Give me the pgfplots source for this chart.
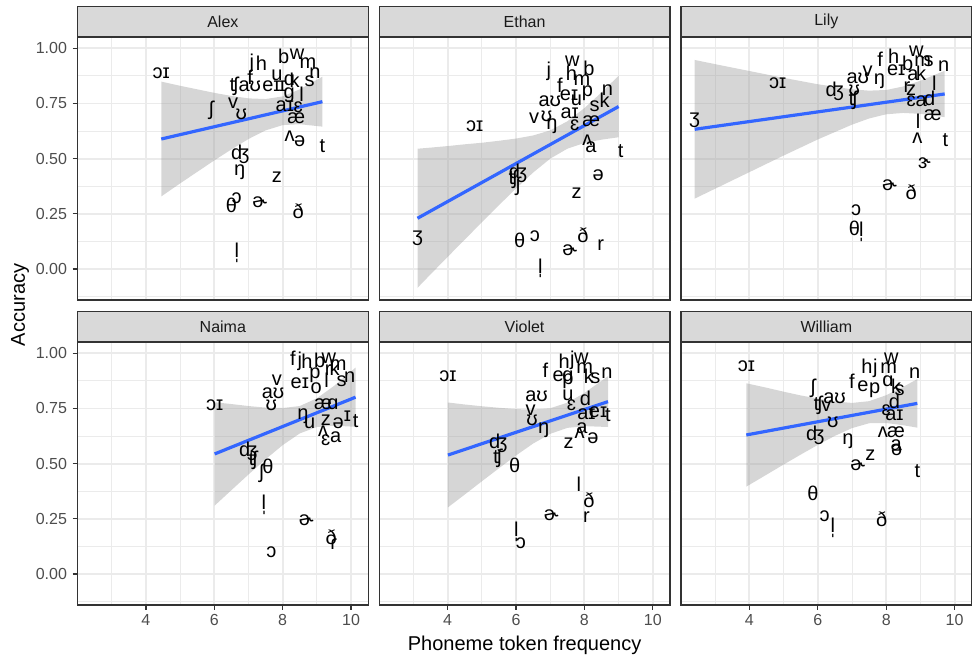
\documentclass[border=0pt]{standalone}
\usepackage{fontspec}
\setmainfont{Liberation Sans}
\usepackage{pgfplots}
\pgfplotsset{compat=1.18}
\definecolor{grid92}{HTML}{EBEBEB}
\definecolor{border}{HTML}{333333}
\definecolor{stripbg}{HTML}{D9D9D9}
\definecolor{gray30}{HTML}{4D4D4D}
\definecolor{gray10}{HTML}{1A1A1A}
\definecolor{smoothc}{HTML}{3366FF}
\definecolor{ribbonc}{HTML}{999999}
\newcommand\labfont{\fontsize{20}{20}\selectfont}
\newcommand\tickfont{\fontsize{16}{16}\selectfont}
\newcommand\titlefont{\fontsize{20}{20}\selectfont}
\pgfplotsset{
  panel/.style={
    scale only axis, width=290.7pt, height=263pt, anchor=north west,
    xmin=2.0, xmax=10.5, ymin=-0.140, ymax=1.051,
    xtick={4,6,8,10}, minor xtick={3,5,7,9},
    ytick={0,0.25,0.5,0.75,1}, minor ytick={-0.125,0.125,0.375,0.625,0.875},
    grid=both,
    major grid style={draw=grid92, line width=1.9pt},
    minor grid style={draw=grid92, line width=1pt},
    axis line style={draw=border, line width=1.2pt},
    tick align=outside, major tick length=5pt, minor tick length=0pt,
    xtick pos=bottom, ytick pos=left,
    tick style={draw=border, line width=1.2pt},
    tick label style={font=\tickfont, text=gray30},
    xticklabel style={yshift=-1pt},
    yticklabel style={xshift=-2pt},
    clip=false,
  },
  xlab/.style={xticklabels={4,6,8,10}},
  ylab/.style={yticklabels={0.00,0.25,0.50,0.75,1.00}},
  noxlab/.style={xmajorticks=false},
  noylab/.style={ymajorticks=false},
  labs/.style={draw=none, mark=none, nodes near coords, point meta=explicit symbolic,
    every node near coord/.append style={anchor=center, font=\labfont, text=black, inner sep=0pt}},
  rib/.style={fill=ribbonc, fill opacity=0.4, draw=none},
  fit/.style={draw=smoothc, line width=3.2pt},
}
\newcommand\strip[1]{%
  \draw[fill=stripbg, draw=border, line width=1.2pt] (rel axis cs:0,1) rectangle ([yshift=30.5pt]rel axis cs:1,1);
  \node[font=\tickfont, text=gray10] at ([yshift=15.25pt]rel axis cs:0.5,1) {#1};}
\begin{document}
\begin{tikzpicture}
\path[use as bounding box] (0pt,0pt) rectangle (975pt,660pt);
% Alex
\begin{axis}[panel, noxlab, ylab, at={(77.5pt,623pt)}]
\addplot[labs] coordinates {
(4.45,0.887)[ɔɪ] (7.10,0.932)[j] (7.38,0.932)[h] (8.03,0.962)[b] (8.42,0.974)[w]
(8.74,0.932)[m] (8.94,0.887)[n] (8.79,0.852)[s] (7.05,0.869)[f] (7.83,0.879)[u]
(8.20,0.856)[ɑ] (8.35,0.856)[k] (6.57,0.829)[ʧ] (7.04,0.826)[aʊ] (7.67,0.826)[eɪ]
(7.99,0.826)[ɪ] (8.19,0.789)[ɡ] (8.55,0.793)[l] (5.91,0.720)[ʃ] (6.55,0.750)[v]
(6.79,0.700)[ʊ] (8.06,0.739)[aɪ] (8.45,0.733)[ɛ] (8.40,0.683)[æ] (8.20,0.600)[ʌ]
(8.50,0.577)[ə] (9.16,0.557)[t] (6.76,0.521)[ʤ] (6.74,0.437)[ŋ] (7.83,0.418)[z]
(6.65,0.320)[ɔ] (6.50,0.290)[θ] (7.33,0.305)[ɚ] (8.45,0.260)[ð] (6.66,0.074)[l̩]
};
\addplot[rib] coordinates {(4.45,0.849)(5.0,0.830)(5.5,0.814)(6.0,0.798)(6.5,0.784)(7.0,0.773)(7.5,0.770)(8.0,0.782)(8.5,0.814)(9.16,0.871)
(9.16,0.645)(8.5,0.656)(8.0,0.652)(7.5,0.628)(7.0,0.589)(6.5,0.542)(6.0,0.492)(5.5,0.440)(5.0,0.388)(4.45,0.329)} --cycle;
\addplot[fit] coordinates {(4.45,0.589)(9.16,0.758)};
\strip{Alex}
\end{axis}
% Ethan
\begin{axis}[panel, noxlab, noylab, at={(379.2pt,623pt)}]
\addplot[labs] coordinates {
(3.12,0.139)[ʒ] (4.79,0.645)[ɔɪ] (6.96,0.894)[j] (7.65,0.940)[w] (7.62,0.887)[h]
(8.13,0.909)[b] (7.93,0.856)[m] (7.28,0.834)[f] (8.67,0.811)[n] (8.59,0.766)[k]
(7.55,0.789)[eɪ] (7.77,0.766)[u] (8.09,0.796)[p] (8.30,0.739)[s] (6.99,0.758)[aʊ]
(7.57,0.708)[aɪ] (6.53,0.683)[v] (6.89,0.690)[ʊ] (7.05,0.645)[ŋ] (7.72,0.653)[ɛ]
(8.20,0.668)[æ] (8.09,0.585)[ʌ] (8.19,0.554)[a] (9.06,0.532)[t] (8.40,0.426)[ə]
(6.06,0.434)[ʤ] (5.91,0.406)[ʧ] (6.06,0.373)[ʃ] (7.77,0.343)[z] (6.11,0.131)[θ]
(6.55,0.150)[ɔ] (7.96,0.154)[ð] (7.57,0.086)[ɚ] (8.48,0.109)[r] (6.71,0.003)[l̩]
};
\addplot[rib] coordinates {(3.12,0.545)(3.5,0.550)(4.0,0.557)(4.5,0.565)(5.0,0.572)(5.5,0.581)(6.0,0.591)(6.5,0.605)(7.0,0.628)(7.5,0.669)(8.0,0.729)(8.5,0.800)(9.0,0.875)
(9.0,0.597)(8.5,0.586)(8.0,0.571)(7.5,0.545)(7.0,0.500)(6.5,0.437)(6.0,0.365)(5.5,0.289)(5.0,0.212)(4.5,0.133)(4.0,0.055)(3.5,-0.024)(3.12,-0.085)} --cycle;
\addplot[fit] coordinates {(3.12,0.230)(9.0,0.736)};
\strip{Ethan}
\end{axis}
% Lily
\begin{axis}[panel, noxlab, noylab, at={(681pt,623pt)}]
\addplot[labs] coordinates {
(2.40,0.675)[ʒ] (4.83,0.841)[ɔɪ] (6.49,0.804)[ʤ] (7.07,0.811)[ʊ] (7.03,0.766)[ʧ]
(7.17,0.864)[aʊ] (7.46,0.894)[v] (7.80,0.849)[ŋ] (7.82,0.950)[f] (8.22,0.962)[h]
(8.29,0.902)[eɪ] (8.63,0.932)[b] (8.88,0.985)[w] (9.07,0.940)[m] (9.24,0.940)[s]
(8.78,0.879)[a] (9.02,0.887)[k] (9.68,0.917)[n] (8.61,0.826)[r] (8.73,0.811)[z]
(9.41,0.841)[l] (8.73,0.758)[ɛ] (9.02,0.758)[a] (9.27,0.773)[d] (9.36,0.698)[æ]
(8.93,0.668)[l] (8.91,0.592)[ʌ] (9.73,0.585)[t] (9.12,0.479)[ɝ] (8.10,0.381)[ɚ]
(8.73,0.350)[ð] (7.12,0.267)[ɔ] (7.07,0.184)[θ] (7.27,0.169)[l̩]
};
\addplot[rib] coordinates {(2.4,0.947)(3,0.928)(4,0.897)(5,0.866)(6,0.837)(7,0.814)(7.5,0.808)(8,0.811)(8.5,0.827)(9,0.853)(9.71,0.898)
(9.71,0.688)(9,0.703)(8.5,0.707)(8,0.701)(7.5,0.682)(7,0.654)(6,0.587)(5,0.514)(4,0.439)(3,0.364)(2.4,0.319)} --cycle;
\addplot[fit] coordinates {(2.4,0.633)(9.71,0.793)};
\strip{Lily}
\end{axis}
% Naima
\begin{axis}[panel, xlab, ylab, at={(77.5pt,318pt)}]
\addplot[labs] coordinates {
(6.01,0.766)[ɔɪ] (8.30,0.977)[f] (8.50,0.962)[j] (8.71,0.965)[h] (9.08,0.970)[b]
(9.35,0.977)[w] (9.62,0.947)[m] (9.33,0.924)[r] (9.52,0.932)[k] (9.96,0.894)[n]
(9.72,0.872)[s] (7.83,0.879)[v] (7.72,0.819)[aʊ] (8.50,0.864)[eɪ] (8.94,0.902)[p]
(8.98,0.841)[o] (9.28,0.879)[l] (7.67,0.766)[ʊ] (9.18,0.769)[æ] (9.47,0.769)[ɑ]
(8.59,0.713)[ŋ] (8.79,0.683)[u] (9.26,0.698)[z] (9.62,0.683)[ə] (9.89,0.713)[ɪ]
(10.13,0.693)[t] (9.18,0.645)[ʌ] (9.26,0.607)[ɛ] (9.55,0.622)[a] (6.99,0.554)[ʤ]
(7.13,0.517)[ʧ] (7.57,0.486)[θ] (7.38,0.456)[ʃ] (7.45,0.313)[l̩] (8.69,0.245)[ɚ]
(9.42,0.169)[ð] (9.49,0.134)[ɾ] (7.67,0.101)[ɔ]
};
\addplot[rib] coordinates {(6.01,0.778)(6.5,0.770)(7,0.761)(7.5,0.754)(8,0.752)(8.5,0.761)(9,0.796)(9.5,0.852)(10.13,0.935)
(10.13,0.667)(9.5,0.672)(9,0.666)(8.5,0.637)(8,0.584)(7.5,0.520)(7,0.451)(6.5,0.380)(6.01,0.310)} --cycle;
\addplot[fit] coordinates {(6.01,0.544)(10.13,0.801)};
\strip{Naima}
\end{axis}
% Violet
\begin{axis}[panel, xlab, noylab, at={(379.2pt,318pt)}]
\addplot[labs] coordinates {
(4.01,0.894)[ɔɪ] (6.86,0.924)[f] (7.41,0.965)[h] (7.65,0.970)[j] (7.91,0.977)[w]
(8.01,0.932)[m] (7.23,0.894)[e] (7.52,0.894)[ɑ] (7.52,0.872)[p] (8.13,0.894)[k]
(8.32,0.887)[s] (8.66,0.909)[n] (6.60,0.804)[aʊ] (7.52,0.811)[u] (7.62,0.766)[ɛ]
(8.03,0.796)[d] (6.43,0.743)[v] (6.47,0.698)[ʊ] (6.81,0.653)[ŋ] (7.93,0.660)[a]
(8.06,0.724)[aɪ] (8.40,0.735)[eɪ] (8.69,0.721)[t] (7.54,0.592)[z] (7.86,0.637)[ʌ]
(8.25,0.615)[ə] (5.48,0.592)[ʤ] (5.46,0.524)[ʧ] (5.96,0.494)[θ] (7.84,0.406)[l]
(8.13,0.335)[ð] (8.06,0.260)[r] (7.03,0.267)[ɚ] (6.01,0.192)[l̩] (6.14,0.139)[ɔ]
};
\addplot[rib] coordinates {(4.01,0.777)(4.5,0.768)(5,0.760)(5.5,0.753)(6,0.747)(6.5,0.745)(7,0.751)(7.5,0.776)(8,0.820)(8.69,0.896)
(8.69,0.666)(8,0.670)(7.5,0.662)(7,0.635)(6.5,0.591)(6,0.537)(5.5,0.479)(5,0.420)(4.5,0.360)(4.01,0.302)} --cycle;
\addplot[fit] coordinates {(4.01,0.539)(8.69,0.781)};
\strip{Violet}
\end{axis}
% William
\begin{axis}[panel, xlab, noylab, at={(681pt,318pt)}]
\addplot[labs] coordinates {
(3.91,0.940)[ɔɪ] (7.44,0.940)[h] (7.68,0.932)[j] (8.15,0.977)[w] (8.07,0.932)[m]
(8.83,0.909)[n] (5.86,0.841)[ʃ] (7.00,0.872)[f] (7.32,0.849)[e] (7.66,0.834)[p]
(8.05,0.872)[ɑ] (8.29,0.849)[k] (8.39,0.834)[s] (6.49,0.796)[aʊ] (6.00,0.766)[ʧ]
(6.25,0.758)[v] (8.24,0.781)[d] (8.00,0.743)[ɛ] (8.24,0.721)[aɪ] (6.44,0.687)[ʊ]
(5.92,0.630)[ʤ] (6.88,0.600)[ŋ] (7.90,0.642)[ʌ] (8.29,0.642)[æ] (8.29,0.585)[a]
(8.31,0.560)[ə] (7.54,0.536)[z] (7.17,0.494)[ɚ] (8.91,0.467)[t] (5.86,0.366)[θ]
(6.20,0.260)[ɔ] (6.44,0.210)[l̩] (7.87,0.249)[ð]
};
\addplot[rib] coordinates {(3.91,0.864)(4.5,0.844)(5,0.826)(5.5,0.809)(6,0.795)(6.5,0.782)(7,0.775)(7.5,0.783)(8,0.810)(8.5,0.848)(8.91,0.883)
(8.91,0.663)(8.5,0.674)(8,0.684)(7.5,0.683)(7,0.661)(6.5,0.626)(6,0.585)(5.5,0.541)(5,0.496)(4.5,0.450)(3.91,0.396)} --cycle;
\addplot[fit] coordinates {(3.91,0.630)(8.91,0.773)};
\strip{William}
\end{axis}
\node[rotate=90, font=\titlefont] at (20pt,355pt) {Accuracy};
\node[font=\titlefont] at (524.6pt,15pt) {Phoneme token frequency};
\end{tikzpicture}
\end{document}
